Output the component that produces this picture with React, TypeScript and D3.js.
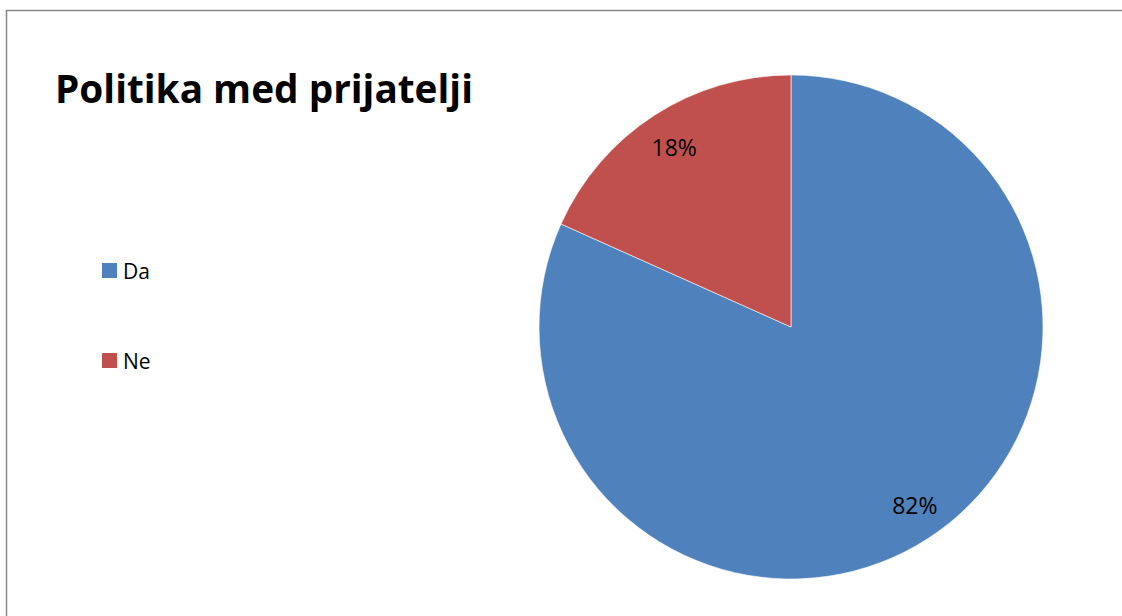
import React from "react";
import * as d3 from "d3";

const categories = ["Da", "Ne"];
const values = [81.7, 18.3];
const colors = ["#4F81BD", "#C0504D"];
const title = "Politika med prijatelji";

export default function App() {
  const width = 1122;
  const height = 616;
  const cx = 791;
  const cy = 327;
  const r = 252;
  const labelNudge: [number, number][] = [[8, 0], [-1, 0]];
  const pie = d3.pie<number>().sort(null).value((d) => d)(values);
  const arc = d3.arc<d3.PieArcDatum<number>>().innerRadius(0).outerRadius(r);
  const labelArc = d3.arc<d3.PieArcDatum<number>>().innerRadius(213).outerRadius(213);
  const total = d3.sum(values);
  const font = "'Open Sans', 'Liberation Sans', sans-serif";
  const legendY = d3.scalePoint<string>().domain(categories).range([270, 360]);

  return (
    <svg
      width={width}
      height={height}
      style={{ position: "fixed", left: 0, top: 0, background: "#fff" }}
    >
      <rect x={6.5} y={10.5} width={width + 10} height={height + 10} fill="#fff" stroke="#868686" strokeWidth={1.5} />
      <text
        x={55}
        y={103}
        fontFamily={font}
        fontWeight="bold"
        fontSize={40}
        textLength={418}
        lengthAdjust="spacingAndGlyphs"
        fill="#000"
      >
        {title}
      </text>
      <g transform={`translate(${cx},${cy})`}>
        {pie.map((d, i) => (
          <path key={i} d={arc(d) || ""} fill={colors[i]} stroke="#fff" strokeWidth={0.6} />
        ))}
        {pie.map((d, i) => {
          const [x, y] = labelArc.centroid(d);
          return (
            <text
              key={"l" + i}
              x={x + labelNudge[i][0]}
              y={y + 8 + labelNudge[i][1]}
              textAnchor="middle"
              fontFamily={font}
              fontSize={23}
              fill="#000"
            >
              {Math.round((d.value / total) * 100) + "%"}
            </text>
          );
        })}
      </g>
      {categories.map((c, i) => (
        <g key={c} transform={`translate(102,${legendY(c)})`}>
          <rect x={0} y={-7} width={15} height={15} fill={colors[i]} />
          <text x={21} y={8.5} fontFamily={font} fontSize={21} fill="#000">
            {c}
          </text>
        </g>
      ))}
    </svg>
  );
}
